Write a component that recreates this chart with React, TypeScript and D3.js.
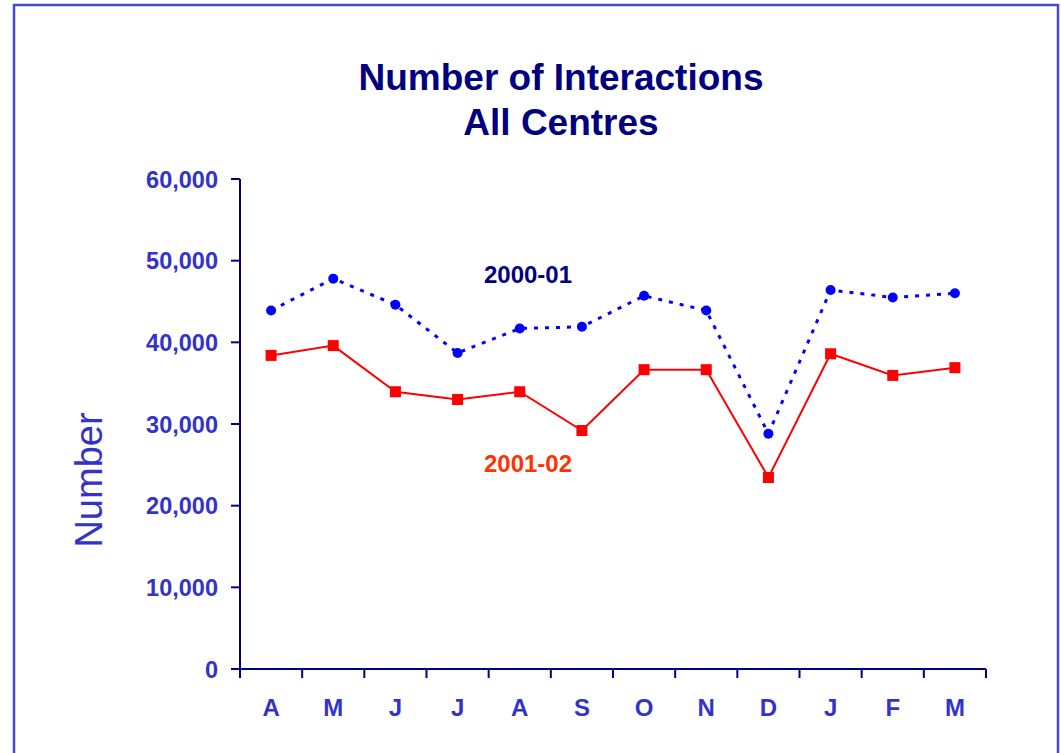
import React from "react";
import * as d3 from "d3";

const months = ["A", "M", "J", "J", "A", "S", "O", "N", "D", "J", "F", "M"];
const series2000 = [43900, 47800, 44600, 38700, 41700, 41900, 45700, 43900, 28800, 46400, 45500, 46000];
const series2001 = [38400, 39600, 33950, 33000, 33950, 29200, 36650, 36650, 23450, 38600, 35950, 36900];
const yTicks = [0, 10000, 20000, 30000, 40000, 50000, 60000];

export default function App() {
  const W = 1061, H = 753;
  const x0 = 240, x1 = 986, yTop = 179, yBot = 669;
  const x = d3.scaleBand<number>().domain(d3.range(12)).range([x0, x1]);
  const y = d3.scaleLinear().domain([0, 60000]).range([yBot, yTop]);
  const cx = (i: number) => (x(i) as number) + x.bandwidth() / 2;
  const line = d3.line<number>().x((_, i) => cx(i)).y((d) => y(d));
  const fmt = d3.format(",");
  const tickColor = "#3333cc";
  const axisColor = "#000080";
  const border = "#4848dd";
  return (
    <svg
      width={W}
      height={H}
      style={{ position: "absolute", left: 0, top: 0, display: "block", fontFamily: "Liberation Sans, Arial, sans-serif" }}
    >
      <rect x={0} y={0} width={W} height={H} fill="#fff" />
      <line x1={14} x2={14} y1={4} y2={H} stroke={border} strokeWidth={2.5} />
      <line x1={13} x2={1059} y1={5} y2={5} stroke={border} strokeWidth={2.5} />
      <line x1={1058} x2={1058} y1={4} y2={H} stroke={border} strokeWidth={2.5} />
      <text x={561} y={90} textAnchor="middle" fontSize={37} fontWeight="bold" fill={axisColor}>Number of Interactions</text>
      <text x={561} y={135} textAnchor="middle" fontSize={37} fontWeight="bold" fill={axisColor}>All Centres</text>
      <text transform={`translate(102,480) rotate(-90)`} textAnchor="middle" fontSize={38} fill={tickColor}>Number</text>
      {/* y axis */}
      <line x1={x0} x2={x0} y1={yTop} y2={yBot} stroke={axisColor} strokeWidth={2} />
      {yTicks.map((t) => (
        <g key={t}>
          <line x1={x0 - 9} x2={x0} y1={y(t)} y2={y(t)} stroke={axisColor} strokeWidth={2} />
          <text x={x0 - 22} y={y(t) + 8.5} textAnchor="end" fontSize={23.5} fontWeight="bold" fill={tickColor}>{fmt(t)}</text>
        </g>
      ))}
      {/* x axis */}
      <line x1={x0 - 9} x2={x1} y1={yBot} y2={yBot} stroke={axisColor} strokeWidth={2} />
      {d3.range(13).map((i) => {
        const xx = i < 12 ? (x(i) as number) : x1;
        return <line key={i} x1={xx} x2={xx} y1={yBot} y2={yBot + 9} stroke={axisColor} strokeWidth={2} />;
      })}
      {months.map((m, i) => (
        <text key={i} x={cx(i)} y={716} textAnchor="middle" fontSize={24} fontWeight="bold" fill={tickColor}>{m}</text>
      ))}
      {/* series 2001-02 */}
      <path d={line(series2001) || ""} fill="none" stroke="#ff0000" strokeWidth={2} />
      {series2001.map((v, i) => (
        <rect key={i} x={cx(i) - 5.5} y={y(v) - 5.5} width={11} height={11} fill="#ff0000" />
      ))}
      {/* series 2000-01 */}
      <path d={line(series2000) || ""} fill="none" stroke="#0000ff" strokeWidth={3} strokeDasharray="4 7" />
      {series2000.map((v, i) => (
        <circle key={i} cx={cx(i)} cy={y(v)} r={5} fill="#0000ff" />
      ))}
      <text x={528} y={283} textAnchor="middle" fontSize={24} fontWeight="bold" fill={axisColor}>2000-01</text>
      <text x={528} y={472} textAnchor="middle" fontSize={24} fontWeight="bold" fill="#ff3300">2001-02</text>
    </svg>
  );
}
